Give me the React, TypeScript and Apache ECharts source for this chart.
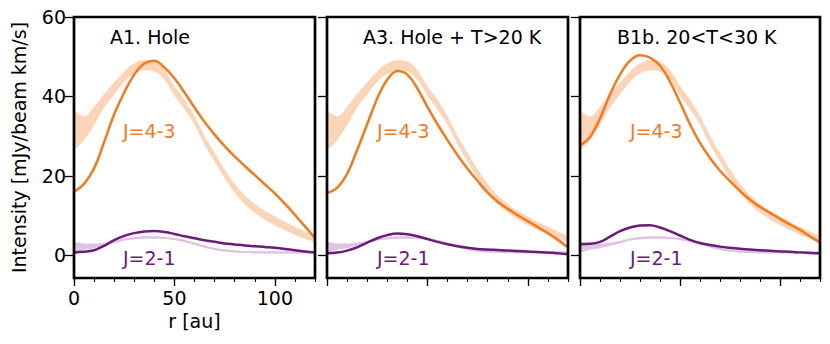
import React, { useEffect, useRef } from "react";
import * as echarts from "echarts";

// radius grid [au]
const radius = [0, 5, 10, 15, 20, 25, 30, 35, 40, 45, 50, 55, 60, 65, 70, 75, 80, 85, 90, 95, 100, 105, 110, 115, 120];

// observed J=4-3 band (lower / upper)
const obsJ43Low = [26.5, 29.0, 32.8, 37.2, 40.5, 43.7, 45.7, 46.6, 46.3, 44.2, 40.2, 36.8, 32.9, 27.9, 23.6, 19.4, 15.8, 12.9, 10.7, 9.0, 7.6, 6.4, 5.2, 4.2, 3.3];
const obsJ43High = [36.6, 35.0, 37.4, 40.6, 43.5, 46.3, 48.3, 49.1, 48.8, 46.6, 42.6, 39.2, 35.1, 30.1, 25.8, 21.6, 18.0, 15.1, 12.9, 11.2, 9.8, 8.4, 7.2, 6.0, 4.9];

// observed J=2-1 band (lower / upper) and its centre line
const obsJ21Low = [0.6, 1.4, 1.8, 2.4, 3.05, 3.75, 4.05, 4.25, 4.25, 4.15, 3.85, 3.35, 2.65, 1.95, 1.35, 0.95, 0.7, 0.6, 0.55, 0.5, 0.5, 0.5, 0.5, 0.5, 0.5];
const obsJ21High = [3.4, 3.0, 3.0, 3.2, 3.55, 4.25, 4.55, 4.75, 4.75, 4.65, 4.35, 3.85, 3.15, 2.45, 1.85, 1.45, 1.2, 1.1, 1.05, 1.0, 1.0, 1.0, 1.0, 1.0, 1.0];
const obsJ21Mid = [2.0, 2.2, 2.4, 2.8, 3.3, 4.0, 4.3, 4.5, 4.5, 4.4, 4.1, 3.6, 2.9, 2.2, 1.6, 1.2, 0.95, 0.85, 0.8, 0.75, 0.75, 0.75, 0.75, 0.75, 0.75];

// models
const modelA1J43 = [16.0, 18.0, 21.9, 28.5, 35.5, 41.0, 45.5, 48.3, 49.0, 47.3, 44.6, 41.0, 37.2, 33.6, 30.4, 27.5, 24.9, 22.5, 20.2, 17.9, 15.6, 13.0, 10.2, 7.3, 4.4];
const modelA1J21 = [0.75, 0.9, 1.3, 2.4, 3.85, 4.9, 5.6, 6.0, 6.1, 5.9, 5.4, 4.8, 4.3, 3.8, 3.4, 3.0, 2.75, 2.5, 2.3, 2.1, 1.9, 1.6, 1.3, 1.0, 0.75];
const modelA3J43 = [15.7, 17.0, 20.5, 26.5, 33.0, 39.5, 44.2, 46.4, 45.5, 42.0, 37.4, 33.0, 29.0, 25.2, 21.8, 18.7, 15.8, 13.5, 11.7, 10.1, 8.6, 7.1, 5.6, 3.9, 2.0];
const modelA3J21 = [0.5, 0.7, 1.2, 2.0, 3.2, 4.3, 5.1, 5.5, 5.3, 4.8, 4.1, 3.4, 2.8, 2.3, 1.9, 1.6, 1.45, 1.35, 1.25, 1.1, 1.0, 0.85, 0.7, 0.5, 0.3];
const modelB1bJ43 = [27.7, 29.8, 34.5, 40.5, 45.5, 49.0, 50.4, 49.8, 47.8, 43.7, 38.5, 33.0, 28.3, 24.5, 21.3, 18.7, 16.2, 14.0, 12.2, 10.7, 9.2, 7.8, 6.4, 4.8, 3.2];
const modelB1bJ21 = [2.8, 2.9, 3.4, 4.7, 6.1, 7.0, 7.5, 7.6, 7.0, 6.1, 5.0, 3.9, 3.1, 2.6, 2.2, 1.9, 1.65, 1.45, 1.3, 1.15, 1.0, 0.9, 0.75, 0.6, 0.5];

const panelTitles = ["A1. Hole", "A3. Hole + T>20 K", "B1b. 20<T<30 K"];
const lineLabels = ["J=4-3", "J=2-1"];
const modelsJ43 = [modelA1J43, modelA3J43, modelB1bJ43];
const modelsJ21 = [modelA1J21, modelA3J21, modelB1bJ21];
const yTicks = [0, 20, 40, 60];
const xMajorTicks = [0, 50, 100];
const xMinorStep = 10;
const yLabel = "Intensity [mJy/beam km/s]";
const xLabel = "r [au]";

const DARK_ORANGE = "#f47a1d";
const LIGHT_ORANGE = "#fcd4b7";
const DARK_PURPLE = "#6b1b79";
const LIGHT_PURPLE = "#dcc4e2";
const FONT = "DejaVu Sans";

const diff = (hi: number[], lo: number[]) => hi.map((h, i) => +(h - lo[i]).toFixed(3));

export default function App() {
  const ref = useRef<HTMLDivElement>(null);

  useEffect(() => {
    document.body.style.margin = "0";
    const chart = echarts.init(ref.current!, undefined, { renderer: "svg" });

    const rects = [
      { left: 74, width: 241 },
      { left: 327, width: 241 },
      { left: 580, width: 240 },
    ];
    const top = 17;
    const height = 261;
    const yMin = -5.7;
    const yMax = 60;

    const cats = radius.map(String);
    const isMajor = (idx: number) => xMajorTicks.includes(radius[idx]);
    const isMinor = (idx: number) => radius[idx] % xMinorStep === 0;

    const grid: any[] = [];
    const xAxis: any[] = [];
    const yAxis: any[] = [];
    const series: any[] = [];
    const graphic: any[] = [];

    const labelStyle = { fontFamily: FONT, fontSize: 19, color: "#000" };

    rects.forEach((r, i) => {
      grid.push({ left: r.left, top, width: r.width, height, show: true, borderColor: "#000", borderWidth: 2.7, backgroundColor: "transparent", containLabel: false, z: 5 });
      grid.push({ left: r.left, top, width: r.width, height, show: false, containLabel: false });

      xAxis.push({
        type: "category", data: cats, boundaryGap: false, gridIndex: 2 * i, position: "bottom",
        axisLine: { show: false, onZero: false },
        splitLine: { show: false },
        axisTick: { show: true, interval: (idx: number) => isMajor(idx), length: 8, lineStyle: { color: "#000", width: 1.3 } },
        axisLabel: { show: i === 0, interval: (idx: number) => isMajor(idx), margin: 10, ...labelStyle },
        name: i === 0 ? xLabel : "",
        nameLocation: "middle",
        nameGap: 33,
        nameTextStyle: { ...labelStyle },
      });
      xAxis.push({
        type: "category", data: cats, boundaryGap: false, gridIndex: 2 * i + 1, position: "bottom",
        axisLine: { show: false, onZero: false },
        splitLine: { show: false },
        axisTick: { show: true, interval: (idx: number) => isMinor(idx), length: 4, lineStyle: { color: "#000", width: 1.1 } },
        axisLabel: { show: false },
      });
      yAxis.push({
        type: "value", gridIndex: 2 * i, min: yMin, max: yMax, position: "left",
        axisLine: { show: false, onZero: false },
        splitLine: { show: false },
        axisTick: { show: true, customValues: yTicks, length: 9, lineStyle: { color: "#000", width: 1.3 } },
        axisLabel: { show: i === 0, customValues: yTicks, margin: 8, ...labelStyle },
        name: i === 0 ? yLabel : "",
        nameLocation: "middle",
        nameGap: 46,
        nameTextStyle: { ...labelStyle },
      });
      yAxis.push({ type: "value", gridIndex: 2 * i + 1, min: yMin, max: yMax, show: false, axisLine: { onZero: false } });

      const base = { type: "line", xAxisIndex: 2 * i, yAxisIndex: 2 * i, showSymbol: false, symbol: "none", silent: true, smooth: 0.4 };
      series.push({ ...base, stack: "o43_" + i, data: obsJ43Low, lineStyle: { width: 0, opacity: 0 } });
      series.push({ ...base, stack: "o43_" + i, data: diff(obsJ43High, obsJ43Low), lineStyle: { width: 0, opacity: 0 }, areaStyle: { color: LIGHT_ORANGE, opacity: 1 } });
      series.push({ ...base, stack: "o21_" + i, data: obsJ21Low, lineStyle: { width: 0, opacity: 0 } });
      series.push({ ...base, stack: "o21_" + i, data: diff(obsJ21High, obsJ21Low), lineStyle: { width: 0, opacity: 0 }, areaStyle: { color: LIGHT_PURPLE, opacity: 1 } });
      series.push({ ...base, data: obsJ21Mid, lineStyle: { width: 2, color: LIGHT_PURPLE } });
      series.push({ ...base, data: modelsJ43[i], lineStyle: { width: 2.5, color: DARK_ORANGE } });
      series.push({ ...base, data: modelsJ21[i], lineStyle: { width: 2.5, color: DARK_PURPLE } });

      const titleX = [110, 363, 617][i];
      const lblX = [123, 377, 630][i];
      const ts = { fontSize: 19, fontFamily: FONT, textAlign: "left", verticalAlign: "middle", textVerticalAlign: "middle" };
      graphic.push({ type: "text", x: titleX, y: 37, silent: true, z: 10, style: { text: panelTitles[i], fill: "#000", ...ts } });
      graphic.push({ type: "text", x: lblX, y: 131, silent: true, z: 10, style: { text: lineLabels[0], fill: DARK_ORANGE, ...ts } });
      graphic.push({ type: "text", x: lblX, y: 258, silent: true, z: 10, style: { text: lineLabels[1], fill: DARK_PURPLE, ...ts } });
    });

    chart.setOption({
      animation: false,
      backgroundColor: "#fff",
      textStyle: { fontFamily: FONT },
      grid,
      xAxis,
      yAxis,
      series,
      graphic,
    });

    return () => chart.dispose();
  }, []);

  return <div ref={ref} style={{ width: 830, height: 344 }} />;
}
